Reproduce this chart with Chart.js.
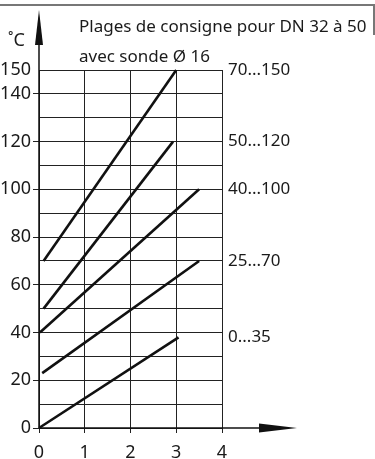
<!DOCTYPE html>
<html><head><meta charset="utf-8">
<script src="https://cdn.jsdelivr.net/npm/chart.js@4/dist/chart.umd.min.js"></script>
<style>html,body{margin:0;padding:0;background:#fff}canvas{display:block}</style>
</head><body>
<canvas id="c" width="375" height="459"></canvas>
<script>
const FONT = "'Noto Sans', sans-serif";
const titleLines = ["Plages de consigne pour DN 32 à 50", "avec sonde Ø 16"];
const yUnit = "˚C";
const xTickValues = [0, 1, 2, 3, 4];
const yGridValues = [0, 10, 20, 30, 40, 50, 60, 70, 80, 90, 100, 110, 120, 130, 140, 150];
const yLabelValues = [0, 20, 40, 60, 80, 100, 120, 140, 150];
const rangeNames = ["70...150", "50...120", "40...100", "25...70", "0...35"];
const rangeStartX = [0.1, 0.1, 0.02, 0.07, 0];
const rangeStartY = [70, 50, 40, 23, 0];
const rangeEndX = [3.0, 2.93, 3.5, 3.5, 3.05];
const rangeEndY = [150, 120, 100, 70, 38];
const rangeLabelY = [150, 120, 100, 70, 38];

const datasets = rangeNames.map((n, i) => ({
  label: n,
  data: [{x: rangeStartX[i], y: rangeStartY[i]}, {x: rangeEndX[i], y: rangeEndY[i]}],
  borderColor: '#111', borderWidth: 2.6, pointRadius: 0, clip: false, tension: 0
}));

const deco = {
  id: 'deco',
  afterDraw(chart) {
    const ctx = chart.ctx, xs = chart.scales.x, ys = chart.scales.y;
    const x0 = xs.getPixelForValue(0), y0 = ys.getPixelForValue(0);
    const x4 = xs.getPixelForValue(4);
    ctx.save();
    // frame
    ctx.strokeStyle = '#777'; ctx.lineWidth = 2;
    ctx.beginPath(); ctx.moveTo(0, 5); ctx.lineTo(375, 5); ctx.stroke();
    ctx.beginPath(); ctx.moveTo(374, 5); ctx.lineTo(374, 35); ctx.stroke();
    // axes
    ctx.strokeStyle = '#111'; ctx.fillStyle = '#111'; ctx.lineWidth = 1.5;
    ctx.beginPath(); ctx.moveTo(x0, y0); ctx.lineTo(x0, 40); ctx.stroke();
    ctx.beginPath(); ctx.moveTo(x0, y0); ctx.lineTo(262, y0); ctx.stroke();
    ctx.beginPath(); ctx.moveTo(x0, 10); ctx.lineTo(x0 - 4, 45); ctx.lineTo(x0 + 4, 45); ctx.closePath(); ctx.fill();
    ctx.beginPath(); ctx.moveTo(297, y0); ctx.lineTo(259, y0 - 4.5); ctx.lineTo(259, y0 + 4.5); ctx.closePath(); ctx.fill();
    // texts
    ctx.fillStyle = '#1a1a1a'; ctx.font = '17px ' + FONT; ctx.textBaseline = 'middle'; ctx.textAlign = 'left';
    ctx.fillText(titleLines[0], 79, 27);
    ctx.fillText(titleLines[1], 79, 57);
    ctx.font = '18px ' + FONT;
    ctx.fillText(yUnit, 8, 41);
    ctx.font = '17px ' + FONT;
    rangeNames.forEach((n, i) => ctx.fillText(n, x4 + 6, ys.getPixelForValue(rangeLabelY[i])));
    ctx.restore();
  }
};

new Chart(document.getElementById('c'), {
  type: 'line',
  data: { datasets },
  plugins: [deco],
  options: {
    responsive: false, animation: false, devicePixelRatio: 1,
    layout: { padding: { top: 70, right: 153, left: 0, bottom: 0 } },
    plugins: { legend: { display: false }, tooltip: { enabled: false }, title: { display: false } },
    scales: {
      x: {
        type: 'linear', min: 0, max: 4,
        afterBuildTicks: s => { s.ticks = xTickValues.map(v => ({ value: v })); },
        afterFit: s => { s.height = 31; },
        grid: { color: '#222', lineWidth: 1, tickLength: 5, tickColor: '#222' },
        border: { display: false },
        ticks: { color: '#1a1a1a', font: { family: FONT, size: 18 }, padding: 9, maxRotation: 0, autoSkip: false }
      },
      y: {
        type: 'linear', min: 0, max: 150,
        afterBuildTicks: s => { s.ticks = yGridValues.map(v => ({ value: v })); },
        afterFit: s => { s.width = 39; },
        grid: { color: '#222', lineWidth: 1, tickLength: 6,
          tickColor: c => (c.tick && yLabelValues.includes(c.tick.value) && c.tick.value !== 150) ? '#222' : 'rgba(0,0,0,0)' },
        border: { display: false },
        ticks: { color: '#1a1a1a', font: { family: FONT, size: 18 }, padding: 2, autoSkip: false,
          callback: v => yLabelValues.includes(v) ? String(v) : '' }
      }
    }
  }
});
</script>
</body></html>
